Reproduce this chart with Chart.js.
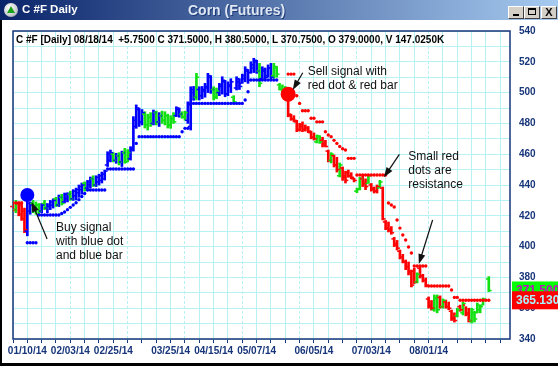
<!DOCTYPE html>
<html>
<head>
<meta charset="utf-8">
<script src="https://cdn.jsdelivr.net/npm/chart.js@4.4.1/dist/chart.umd.min.js"></script>
<style>
  html, body { margin: 0; padding: 0; background: #fff; }
  #wrap { position: relative; width: 558px; height: 366px; overflow: hidden; background: #fff;
          font-family: "Liberation Sans", Arial, sans-serif; }
  #chart { position: absolute; left: 0; top: 0; }
  #titlebar { position: absolute; left: 0; top: 0; width: 558px; height: 20px;
              background: linear-gradient(to right, #0a246a 0%, #a6caf0 100%); }
  #icon { position: absolute; left: 4px; top: 3px; width: 14px; height: 14px; border-radius: 50%;
          background: radial-gradient(circle at 40% 35%, #ffffff 0%, #c8ccd0 60%, #6a7078 100%); }
  #icon div { position: absolute; left: 3px; top: 3px; width: 0; height: 0;
              border-left: 4px solid transparent; border-right: 4px solid transparent;
              border-bottom: 7px solid #1aa31a; }
  #tleft { position: absolute; left: 22px; top: 3px; color: #fff; font-weight: bold; font-size: 11.5px; }
  #tmid { position: absolute; left: 188px; top: 2px; color: #dfe7f3; font-weight: bold; font-size: 14px;
          text-shadow: 1px 1px 0 #1d3a78; }
  .btn { position: absolute; top: 6px; width: 16px; height: 13px; box-sizing: border-box; background: #d4d0c8;
         border-top: 1px solid #fff; border-left: 1px solid #fff; border-right: 1px solid #404040;
         border-bottom: 1px solid #404040; }
  #bmin div { position: absolute; left: 4px; top: 7px; width: 6px; height: 2px; background: #000; }
  #bmax div { position: absolute; left: 3px; top: 1px; width: 8px; height: 7px; box-sizing: border-box;
              border: 1px solid #000; border-top-width: 2px; }
  #bcls { font-size: 11px; font-weight: bold; line-height: 11px; text-align: center; color: #000; }
  #info { position: absolute; left: 16px; top: 34px; font-size: 10px; font-weight: bold; color: #000;
          white-space: pre; }
  #edgeL { position: absolute; left: 0; top: 20px; width: 2px; height: 346px; background: #000; }
  #edgeB { position: absolute; left: 0; top: 363px; width: 558px; height: 3px; background: #000; }
</style>
</head>
<body>
<div id="wrap">
  <canvas id="chart" width="558" height="366"></canvas>
  <div id="titlebar">
    <div id="icon"><div></div></div>
    <div id="tleft">C #F Daily</div>
    <div id="tmid">Corn (Futures)</div>
    <div class="btn" id="bmin" style="left:508px"><div></div></div>
    <div class="btn" id="bmax" style="left:524px"><div></div></div>
    <div class="btn" id="bcls" style="left:541px">X</div>
  </div>
  <div id="info">C #F [Daily] 08/18/14  +5.7500 C 371.5000, H 380.5000, L 370.7500, O 379.0000, V 147.0250K</div>
  <div id="edgeL"></div>
  <div id="edgeB"></div>
</div>
<script>
// daily bars, one per trading day (index 0 = first bar on the chart)
const highs = [
  427, 430, 429, 429, 425, 430, 429, 430, 429, 428,
  428, 430, 428, 430, 431, 432, 433.5, 434, 434.8, 435,
  436, 437, 438, 440, 441.3, 442, 443, 445.2, 446, 446,
  447, 448.4, 449.7, 461.6, 462.7, 461, 460.6, 461, 462, 463.8,
  463, 464.9, 484.4, 492, 490, 489, 487.6, 486, 487, 488.7,
  488, 487, 488, 487.6, 486, 485, 487, 490.8, 490, 487.6,
  488, 494, 503.8, 504, 512.5, 503.8, 504, 506, 512.5, 511,
  503.8, 503, 506, 510.3, 508, 507, 509, 498, 510.3, 509,
  512, 516.8, 515, 520, 522.3, 521, 519, 516.8, 516, 518,
  519, 519, 517, 506, 505, 504, 499.5, 486, 485, 482,
  480, 481, 479, 478, 475, 473.8, 472.5, 472, 471, 469,
  462.7, 461, 459.5, 458, 454.3, 451.7, 449, 449.7, 448, 444.5,
  438, 445, 446, 444, 446, 441, 438.7, 440, 443, 438.7,
  417, 416, 413, 406, 404, 397.8, 395, 391.3, 390, 384.8,
  386, 383, 387, 382, 379.6, 367.3, 365, 368.6, 368.6, 368,
  366, 365.3, 364, 358.8, 357, 360, 362, 364, 361, 360,
  360, 358, 363.4, 362, 366.6, null, 380.5
];
const lows = [
  423, 422, 420, 417, 409, 407, 421, 422, 421, 421,
  422, 424, 422, 424, 425, 426, 426, 427, 428.3, 429,
  430, 430, 430.3, 432, 434, 436, 437.5, 438, 439, 439,
  440, 441.3, 443.2, 452, 455, 455, 454.1, 453, 452, 454.1,
  455, 456.2, 462, 476.8, 478, 479, 477, 475.7, 478, 479,
  479, 478, 480, 479, 477, 476.8, 480, 484.4, 484, 483.3,
  482, 480, 475.7, 495, 495.2, 495.2, 496, 497, 500, 499.5,
  495.2, 496, 498, 499, 497.3, 498, 500, 493.5, 501.7, 502,
  506, 507, 506, 512.5, 513, 512.5, 503.8, 508.2, 509, 510,
  508.2, 509.3, 510, 501.7, 498, 497, 484.3, 482, 481, 474.6,
  475, 474.6, 475, 474, 470, 469.2, 467.3, 467, 464.7, 464.7,
  455, 454.3, 451.7, 448.4, 445.2, 443, 441.3, 445, 444, 442,
  435, 436.8, 439, 437, 441, 436, 434.8, 434.8, 438, 417.3,
  411, 409.5, 408, 400, 397.8, 392, 389.4, 385, 381.6, 373.8,
  376, 376.4, 379.6, 377, 373.8, 360, 358.8, 358, 357, 360,
  360, 360, 359, 352, 351, 354.3, 358, 355.6, 355, 351,
  350.4, 351, 356.9, 357, 362, null, 370.75
];
const opens = [
  426, 424, 428, 427, 423, 410, 423, 428, 424, 427,
  423, 428, 425, 426, 427, 431, 427, 432, 429, 431,
  434, 431, 433, 435, 437, 441, 438, 440, 444, 440,
  442, 443, 444, 453, 456, 460, 456, 459, 455, 461,
  455, 457, 463, 478, 489, 481, 486, 479, 484, 480,
  487, 481, 485, 482, 485, 479, 483, 485, 489, 486,
  484, 482, 478, 500, 497, 502, 498, 501, 503, 510,
  502, 497, 500, 504, 507, 499, 504, 497, 503, 507,
  506, 509, 514, 513, 516, 520, 514, 509, 514, 511,
  516, 511, 516, 505, 502, 500, 499, 485, 483, 481,
  476, 479, 476, 477, 474, 471, 468, 471, 469, 467,
  462, 456, 459, 453, 446, 451, 446, 448, 446, 444,
  436, 437, 444, 441, 441, 440, 438, 436, 438, 438,
  416, 412, 411, 405, 401, 397, 393, 390, 387, 384,
  384, 377, 386, 381, 378, 366, 362, 359, 366, 367,
  361, 364, 361, 358, 354, 355, 361, 357, 362, 357,
  352, 357, 357, 359, 362, null, 379
];
const closes = [
  424, 428, 421, 418, 411, 428, 427, 424, 427, 423,
  427, 425, 427, 429, 430, 427, 432, 428, 434, 434,
  431, 436, 437, 439, 440, 437, 442, 444, 440, 445,
  446, 447, 449, 460, 461, 456, 459, 455, 461, 455,
  461, 464, 482, 490, 481, 487, 479, 484, 480, 487,
  481, 485, 482, 485, 479, 483, 481, 490, 486, 484,
  487, 492, 502, 497, 510, 498, 502, 504, 511, 502,
  497, 501, 505, 508, 499, 505, 507, 494, 509, 504,
  511, 515, 508, 518, 521, 514, 506, 515, 510, 516,
  510, 517, 512, 502, 500, 499, 486, 483, 482, 476,
  478, 476, 477, 475, 471, 470, 472, 468, 466, 465,
  456, 460, 453, 450, 453, 445, 443, 446, 445, 443,
  437.5, 444, 441, 439, 446, 437, 436, 439, 442, 418,
  412, 411, 409, 402, 399, 393, 390, 387, 383, 375,
  377, 382, 381, 378, 375, 361, 360, 367, 359, 361,
  365, 361, 360, 353, 352, 359, 359, 363, 356, 352,
  359, 353, 362, 361, 366, null, 371.5
];
// b = blue (uptrend), g = green, r = red (downtrend)
const colors = [
  'r','g','r','r','r','b','b','g','g','g',
  'b','g','b','b','b','g','b','g','b','b',
  'g','b','b','b','b','g','b','b','g','b',
  'b','b','b','b','b','g','b','g','b','g',
  'g','b','b','b','b','b','g','g','g','b',
  'g','b','g','g','g','g','g','b','b','g',
  'g','b','b','b','g','b','b','b','b','b',
  'g','g','b','b','b','b','b','g','b','b',
  'b','b','b','b','b','b','g','b','b','b',
  'b','g','g','g','g','g','r','r','r','r',
  'r','r','r','r','r','r','g','g','r','r',
  'r','g','r','r','g','r','r','r','r','r',
  'g','g','r','r','g','r','r','r','g','r',
  'r','r','r','r','r','r','r','r','r','r',
  'r','g','r','r','r','r','r','g','g','r',
  'g','r','r','r','r','g','r','g','r','r',
  'g','g','g','g','g',null,'g'
];
// blue support dots under the uptrend
const support = [
  null, null, null, null, null, 402.5, 402.5, 402.5, 402.5, 420.5,
  420.5, 420.5, 420.5, 420.5, 420.5, 420.5, 420.5, 421.5, 422.5, 424,
  425.5, 427, 428.5, 430.5, 432.5, 434.5, 436.8, 436.8, 436.8, 436.8,
  436.8, 436.8, 436.8, 450.4, 450.4, 450.4, 450.4, 450.4, 450.4, 450.4,
  450.4, 450.4, 450.4, 467, 471.4, 471.4, 471.4, 471.4, 471.4, 471.4,
  471.4, 471.4, 471.4, 471.4, 471.4, 471.4, 471.4, 471.4, 471.4, 474.6,
  476.8, 476.8, 493, 493, 493, 493, 493, 493, 493, 493,
  493, 493, 493, 493, 493, 493, 493, 493, 493, 493,
  493, 495.2, 500.6, 508.2, 508.2, 508.2, 508.2, 508.2, 508.2, 508.2,
  508.2, 508.2, 508.2, null, null, null, null, null, null, null,
  null, null, null, null, null, null, null, null, null, null,
  null, null, null, null, null, null, null, null, null, null,
  null, null, null, null, null, null, null, null, null, null,
  null, null, null, null, null, null, null, null, null, null,
  null, null, null, null, null, null, null, null, null, null,
  null, null, null, null, null, null, null, null, null, null,
  null, null, null, null, null, null, null
];
// red resistance dots over the downtrend
const resistance = [
  428.3, 428.3, 428.3, 428.3, null, null, null, null, null, null,
  null, null, null, null, null, null, null, null, null, null,
  null, null, null, null, null, null, null, null, null, null,
  null, null, null, null, null, null, null, null, null, null,
  null, null, null, null, null, null, null, null, null, null,
  null, null, null, null, null, null, null, null, null, null,
  null, null, null, null, null, null, null, null, null, null,
  null, null, null, null, null, null, null, null, null, null,
  null, null, null, null, null, null, null, null, null, null,
  null, null, null, null, null, null, 512, 512, 512, 498,
  493, 488.2, 488.2, 488.2, 483.3, 483.3, 481, 481, 481, 474.6,
  472.5, 471.4, 469, 467, 465, 463.5, 462.7, 457.3, 457.3, 457.3,
  446.5, 446.5, 446.5, 446.5, 446.5, 446.5, 446.5, 446.5, 446.5, 446.5,
  446.5, 428.3, 427, 425.7, 417.3, 412, 407.5, 404.3, 399.7, 395.8,
  387.4, 387.4, 387.4, 387.4, 387.4, 374.4, 374.4, 374.4, 374.4, 374.4,
  374.4, 374.4, 374.4, 371.8, 367, 367, 365.13, 365.13, 365.13, 365.13,
  365.13, 365.13, 365.13, 365.13, 365.13, 365.13, 365.13
];
// big signal dots: buy then sell
const signalDays = [5, 96];
const signalPrices = [433.5, 499];
// date labels under the axis (ticks every 5 bars)
const tickDays = [5, 20, 35, 55, 70, 85, 105, 125, 145];
const tickLabels = ['01/10/14', '02/03/14', '02/25/14', '03/25/14', '04/15/14', '05/07/14', '06/05/14', '07/03/14', '08/01/14'];
const monthDays = [20, 40, 60, 80, 100, 120, 145];

const navy = '#17357a';
const gridCol = '#b6f1f3';
const barColors = { b: '#0000ff', g: '#12e012', r: '#ff0000' };
const fontFam = '"Liberation Sans", Arial, sans-serif';

// text notes and arrows, placed in chart units (bar index, price)
const notes = [
  { lines: ['Buy signal', 'with blue dot', 'and blue bar'], day: 15.0, price: 412.1 },
  { lines: ['Sell signal with', 'red dot & red bar'], day: 102.8, price: 513.4 },
  { lines: ['Small red', 'dots are', 'resistance'], day: 137.9, price: 458.2 }
];
const arrows = [
  { from: [11.9, 404.9], to: [6.5, 429] },
  { from: [101.1, 512.9], to: [97.6, 501.7] },
  { from: [134.8, 459.9], to: [129.4, 445] },
  { from: [146.4, 417.3], to: [141.6, 388.7] }
];

Chart.defaults.font.family = fontFam;

const barData = [];
const barFill = [];
highs.forEach(function (h, i) {
  if (h === null) return;
  barData.push({ x: i, y: [lows[i], h] });
  barFill.push(barColors[colors[i]]);
});

function points(arr) {
  const out = [];
  arr.forEach(function (v, i) {
    if (v !== null) out.push({ x: i, y: v });
  });
  return out;
}

const frame = {
  id: 'frame',
  beforeDatasetsDraw(chart) {
    const a = chart.chartArea, c = chart.ctx;
    c.save();
    c.strokeStyle = navy;
    c.lineWidth = 1.5;
    c.strokeRect(a.left, a.top, a.right - a.left, a.bottom - a.top);
    c.restore();
  }
};

const ohlcTicks = {
  id: 'ohlcTicks',
  afterDatasetDraw(chart, args) {
    if (args.index !== 0) return;
    const c = chart.ctx, xs = chart.scales.x, ys = chart.scales.y;
    c.save();
    highs.forEach(function (h, i) {
      if (h === null) return;
      const px = xs.getPixelForValue(i);
      c.fillStyle = barColors[colors[i]];
      c.fillRect(px - 2.8, ys.getPixelForValue(opens[i]) - 0.75, 2, 1.5);
      c.fillRect(px + 0.8, ys.getPixelForValue(closes[i]) - 0.75, 2, 1.5);
    });
    c.restore();
  }
};

const extras = {
  id: 'extras',
  afterDraw(chart) {
    const c = chart.ctx, xs = chart.scales.x, ys = chart.scales.y;
    c.save();
    // notes
    c.fillStyle = '#111';
    c.font = '12px ' + fontFam;
    c.textBaseline = 'middle';
    c.textAlign = 'left';
    notes.forEach(function (n) {
      const x = xs.getPixelForValue(n.day);
      const y = ys.getPixelForValue(n.price);
      n.lines.forEach(function (t, k) { c.fillText(t, x, y + k * 14); });
    });
    // arrows
    c.strokeStyle = '#111';
    c.lineWidth = 1.2;
    arrows.forEach(function (a) {
      const x1 = xs.getPixelForValue(a.from[0]), y1 = ys.getPixelForValue(a.from[1]);
      const x2 = xs.getPixelForValue(a.to[0]), y2 = ys.getPixelForValue(a.to[1]);
      const ang = Math.atan2(y2 - y1, x2 - x1);
      c.beginPath();
      c.moveTo(x1, y1);
      c.lineTo(x2 - 6 * Math.cos(ang), y2 - 6 * Math.sin(ang));
      c.stroke();
      c.beginPath();
      c.moveTo(x2, y2);
      c.lineTo(x2 - 10 * Math.cos(ang) + 3.5 * Math.sin(ang), y2 - 10 * Math.sin(ang) - 3.5 * Math.cos(ang));
      c.lineTo(x2 - 10 * Math.cos(ang) - 3.5 * Math.sin(ang), y2 - 10 * Math.sin(ang) + 3.5 * Math.cos(ang));
      c.closePath();
      c.fill();
    });
    // last price and last resistance boxes on the price axis
    const lastClose = closes[closes.length - 1];
    const lastRes = resistance[resistance.length - 1];
    c.font = 'bold 12px ' + fontFam;
    let y = ys.getPixelForValue(lastClose);
    c.fillStyle = '#00ff00';
    c.fillRect(512, y - 9, 46, 18);
    c.fillStyle = '#c010c0';
    c.fillText(lastClose.toFixed(3), 516, y);
    y = ys.getPixelForValue(lastRes);
    c.fillStyle = '#ff0000';
    c.fillRect(512, y - 9, 46, 18);
    c.fillStyle = '#a8f4ff';
    c.fillText(lastRes.toFixed(3), 516, y);
    c.restore();
  }
};

const ctx = document.getElementById('chart').getContext('2d');
const chart = new Chart(ctx, {
  type: 'bar',
  data: {
    datasets: [
      { type: 'bar', data: barData, backgroundColor: barFill, barThickness: 2, borderWidth: 0, order: 3 },
      { type: 'line', data: points(support), showLine: false, pointRadius: 1.7, pointBorderWidth: 0,
        pointBackgroundColor: '#0000ff', order: 2 },
      { type: 'line', data: points(resistance), showLine: false, pointRadius: 1.7, pointBorderWidth: 0,
        pointBackgroundColor: '#ff0000', order: 2 },
      { type: 'line', data: [{ x: signalDays[0], y: signalPrices[0] }], showLine: false, pointRadius: 7,
        pointBorderWidth: 0, pointBackgroundColor: '#0000ff', order: 1 },
      { type: 'line', data: [{ x: signalDays[1], y: signalPrices[1] }], showLine: false, pointRadius: 7.5,
        pointBorderWidth: 0, pointBackgroundColor: '#ff0000', order: 1 }
    ]
  },
  options: {
    responsive: false,
    animation: false,
    devicePixelRatio: 1,
    layout: { padding: { left: 13, top: 31, right: 0, bottom: 0 } },
    plugins: { legend: { display: false }, tooltip: { enabled: false } },
    scales: {
      x: {
        type: 'linear', min: 0, max: 173.4, offset: false,
        afterFit: function (s) { s.height = 27; },
        afterBuildTicks: function (s) {
          const t = [];
          for (let d = 0; d <= 170; d += 5) t.push({ value: d });
          s.ticks = t;
        },
        ticks: {
          autoSkip: false, maxRotation: 0, padding: 2, color: navy,
          font: { size: 10, weight: 'bold' },
          callback: function (v) {
            const k = tickDays.indexOf(v);
            return k < 0 ? '' : tickLabels[k];
          }
        },
        grid: { color: gridCol, offset: false, tickColor: navy, tickLength: 4, tickWidth: 1 },
        border: {
          display: false,
          dash: function (c) { return c.tick && monthDays.indexOf(c.tick.value) >= 0 ? [3, 2] : []; }
        }
      },
      y: {
        position: 'right', min: 340, max: 540,
        afterFit: function (s) { s.width = 48; },
        ticks: {
          stepSize: 10, padding: 9, color: navy,
          font: { size: 10, weight: 'bold' },
          callback: function (v) { return v % 20 === 0 ? v : ''; }
        },
        grid: { color: gridCol, drawTicks: false },
        border: { display: false }
      }
    }
  },
  plugins: [frame, ohlcTicks, extras]
});
</script>
</body>
</html>
